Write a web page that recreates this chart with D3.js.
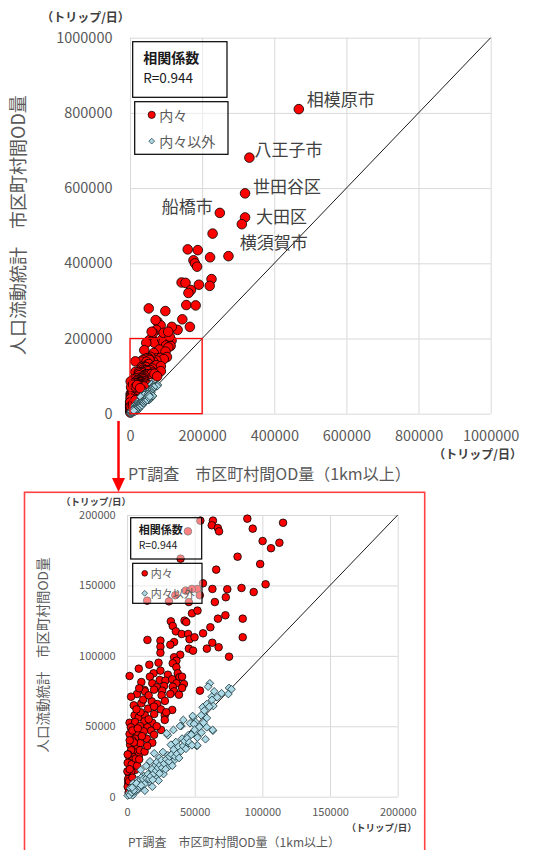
<!DOCTYPE html>
<html>
<head>
<meta charset="utf-8">
<script src="https://cdn.jsdelivr.net/npm/d3@7"></script>
<style>
  body { margin: 0; background: #fff; }
  svg { display: block; }
  text { font-family: 'Noto Sans CJK JP', 'Noto Sans', sans-serif; }
</style>
</head>
<body>
<div id="chart"></div>
<script>
// ---- data (PT調査 OD量, 人口流動統計 OD量) ----
const naiNai = [
  [54200,196000],[63500,196000],[62600,192700],[67100,190800],[68000,188400],[88900,197400],
  [92900,190300],[115300,194500],[100200,181500],[112600,180300],[106400,176400],[81700,170400],
  [98400,165200],[65900,161200],[102400,150800],[63100,147500],[74100,147300],[84600,148200],
  [93600,145300],[73000,141600],[64900,138200],[56100,151500],[45000,188400],[39600,169000],
  [51900,147500],[48000,147500],[43400,146300],[53800,143000],[35700,143000],[31000,138700],
  [14900,139200],[45700,138200],
  [48000,130200],[52100,132100],[67200,126400],[72700,128800],[85500,126400],[32400,124500],
  [42500,125000],[43800,124000],[33800,121200],[61600,120300],[36100,117400],[40400,115500],
  [45200,115500],[56200,116000],[46200,111800],[49900,113200],[85500,113200],[15100,111300],
  [24700,110800],[34800,109800],[32000,107900],[63000,109300],[24700,106500],[45700,105100],
  [48800,103700],[59000,105100],[67700,106100],[24700,102200],[39300,100800],[75400,99400],
  [34800,99000],[36500,96600],[23300,95100],[33800,94700],[16500,93700],[8700,90900],
  [36500,91900],[24700,89500],[19600,87600],[30200,86600],[37500,87600],[1900,85700],
  [16900,85200],[38800,84800],[40700,85200],[24200,82900],[28400,82400],[33400,83400],
  [10600,81400],[18700,80500],[36500,80500],[42000,80000],[27400,78600],[22000,77700],
  [33800,78100],[40700,77200],[12900,75800],[26000,75300],[34800,74800],[53900,75300],
  [7400,72900],[25600,72000],[32000,72900],[38400,72400],
  [13200,74800],[5000,64900],[10600,66300],[18300,67700],[22400,65800],[15600,62500],
  [33400,61600],[5600,57800],[8700,56400],[13200,57800],[20100,58700],[27900,57800],
  [27900,54500],[1900,52500],[6000,53000],[12900,53500],[18700,52500],[2800,49300],
  [9600,50200],[15100,49300],[1900,44500],[7800,45000],[12400,46400],[17900,46900],
  [25200,47400],[6000,41200],[14600,41200],[18700,38300],[2300,36900],[7800,35500],
  [5000,31700],[8700,29400],[1900,27500],[4600,25100],[2300,21300],[6000,19000],
  [1400,16100],[2800,13300],[900,9900],[1900,5700],[500,7100],[1200,3000],[3500,8500],
  [800,12500],[3200,18000],[4000,28500],[3000,33000],[10000,38000],[4000,40000],
  [500,24000],[3500,23000],[1000,30000],[6500,27000],[9500,33000],[5000,38500],
  [11000,43000],[4000,47000],[8000,48500],[20000,44000],[22000,50000],[16000,55000],
  [10000,60000],[7000,62000],[25000,62000],[29000,60000],[20000,64000],[12000,69000],
  [3000,71000],[9000,77000],[16000,72000],[20000,76000],[28000,68000],[2000,40000],
  [500,30000],[300,18000],[1500,11000],[4000,13500],[2000,19500],[7500,22000],
  [9000,26500],[13000,32000],[15000,36000],
  // above 200000 (top panel only)
  [229000,479000],[160000,437000],[188000,435000],[222000,416000],[273000,419000],[176000,408000],
  [180000,400000],[186000,391000],[143000,349000],[154000,348000],[191000,343000],[226000,358000],
  [221000,340000],[169000,329000],[162000,321000],[156000,289000],[182000,288000],[52000,280000],
  [98000,273000],[145000,251000],[166000,231000],[132000,223000],[116000,231000],[76000,245000],
  [85000,235000],[73000,223000],[64000,215000],[93000,215000],[110000,205000],[60000,218000],
  [106000,218000],[71000,249000]
];

const naiNaiIgai = [
  [61200,80500],[59900,78100],[64400,74800],[69900,73400],[75400,77200],[77200,76300],
  [74900,72900],[62600,71000],[55900,63500],[56900,58000],[49000,56400],[41600,54500],
  [62800,68700],[63800,64400],[66600,70600],[59000,65800],[60800,63900],[57100,61100],
  [48500,57300],[54800,57800],[59000,55900],[50700,53000],[56600,52500],[46600,52100],
  [40200,50200],[63500,46900],[49900,45000],[45200,43600],[34300,47400],[30200,43600],
  [58000,40800],[40700,41200],[36100,38800],[44800,37900],[32400,36900],[51600,36000],
  [39800,34100],[26500,31700],[36100,31700],[20100,30800],[30200,29400],[23800,27500],
  [35200,26100],[17000,25100],[27900,24100],[21000,22300],[14200,21800],[30700,21300],
  [25200,19000],[10100,19000],[17900,17500],[27000,16100],[21000,13800],[12400,14700],
  [7800,11900],[16000,10400],[23300,11400],[11000,8100],[18700,7100],[5000,7100],
  [7400,4300],[13200,4300],[2800,2400],[4200,1000],[500,800],
  [39200,50200],[49500,51600],[58900,49300],[63300,47400],[51900,36500],[29300,45000],
  [1500,2500],[3000,4800],[6000,5500],[8500,9000],[10500,13500],[13500,11000],[4500,9500],[2200,6000],
  [2000,1200],[3500,3000],[5500,3800],[6500,7500],[8000,5500],[9500,7000],[9000,11000],
  [11500,10000],[12000,12500],[13000,9000],[14500,13000],[15500,16000],[16500,12500],
  [17500,14500],[18500,19500],[19000,12000],[20000,16500],[21500,18500],[22000,24500],
  [23000,20500],[24000,16500],[24500,22500],[25500,26000],[26000,20500],[27500,23500],
  [28500,19500],[29000,26500],[31000,25000],[31500,28500],[33000,30000],[33500,22000],
  [34500,33500],[35500,28500],[37000,30500],[38000,35500],[38500,27500],[40000,32500],
  [41500,36000],[42500,39500],[43500,34000],[44500,41500],[46000,38500],[47500,44000],
  [48000,36500],[50000,47500],[52000,42000],[53500,49500],[55000,45500],[5000,4500],
  [3800,6500],[7000,9500],[10500,8000]
];

const cityNames  = ["相模原市", "八王子市", "世田谷区", "船橋市", "大田区", "横須賀市"];
const cityPT     = [468000, 331000, 319000, 249000, 319000, 310000];
const cityMobile = [810000, 681000, 586000, 534000, 522000, 504000];

const topTicks  = [0, 200000, 400000, 600000, 800000, 1000000];
const zoomTicks = [0, 50000, 100000, 150000, 200000];

const unitLabel   = "（トリップ/日）";
const xTitle      = "PT調査　市区町村間OD量（1km以上）";
const yTitle      = "人口流動統計　市区町村間OD量";
const corrTitle   = "相関係数";
const corrValue   = "R=0.944";
const seriesNames = ["内々", "内々以外"];

// label placement next to the city points (dx, dy, anchor)
const cityLabelPos = [[8,-11,"start"],[5,-9,"start"],[8,-8,"start"],[-7,-7,"end"],[11,-2,"start"],[-2,17.5,"start"]];

const allNaiNai = naiNai.concat(cityPT.map((v, i) => [v, cityMobile[i]]));

const svg = d3.select("#chart").append("svg")
  .attr("width", 549)
  .attr("height", 850);

function drawPanel(o) {
  const x = d3.scaleLinear().domain([0, o.max]).range([o.left, o.right]);
  const y = d3.scaleLinear().domain([0, o.max]).range([o.bottom, o.top]);
  const g = svg.append("g");

  // gridlines
  g.append("g")
    .attr("transform", `translate(0,${o.bottom})`)
    .call(d3.axisBottom(x).tickValues(o.ticks).tickSize(-(o.bottom - o.top)).tickFormat(""))
    .call(a => a.select(".domain").remove())
    .selectAll("line").attr("stroke", "#d9d9d9");
  g.append("g")
    .attr("transform", `translate(${o.left},0)`)
    .call(d3.axisLeft(y).tickValues(o.ticks).tickSize(-(o.right - o.left)).tickFormat(""))
    .call(a => a.select(".domain").remove())
    .selectAll("line").attr("stroke", "#d9d9d9");

  // tick labels
  const xa = g.append("g")
    .attr("transform", `translate(0,${o.bottom})`)
    .call(d3.axisBottom(x).tickValues(o.ticks).tickSize(0).tickPadding(o.xPad).tickFormat(d3.format("d")));
  xa.select(".domain").remove();
  xa.selectAll("text").attr("fill", "#595959").style("font-size", o.tickFont + "px");

  const ya = g.append("g")
    .attr("transform", `translate(${o.left},0)`)
    .call(d3.axisLeft(y).tickValues(o.ticks).tickSize(0).tickPadding(o.yPad).tickFormat(d3.format("d")));
  ya.select(".domain").remove();
  ya.selectAll("text").attr("fill", "#595959").style("font-size", o.tickFont + "px");

  // y = x line
  g.append("line")
    .attr("x1", x(0)).attr("y1", y(0))
    .attr("x2", x(o.max)).attr("y2", y(o.max))
    .attr("stroke", "#000").attr("stroke-width", 0.9);

  const inside = d => d[0] <= o.max && d[1] <= o.max;

  // 内々
  g.selectAll("circle.nn")
    .data(allNaiNai.filter(inside))
    .join("circle")
    .attr("class", "nn")
    .attr("cx", d => x(d[0]))
    .attr("cy", d => y(d[1]))
    .attr("r", o.r)
    .attr("fill", "#ff0000")
    .attr("stroke", "#000")
    .attr("stroke-width", 0.8);

  // 内々以外
  g.selectAll("path.ng")
    .data(naiNaiIgai.filter(inside))
    .join("path")
    .attr("class", "ng")
    .attr("d", d3.symbol(d3.symbolSquare, o.dia))
    .attr("transform", d => `translate(${x(d[0])},${y(d[1])}) rotate(45)`)
    .attr("fill", "#add8e6")
    .attr("stroke", "#1e3a3e")
    .attr("stroke-width", 0.8);

  // units and titles
  g.append("text").attr("x", o.unitTop[0]).attr("y", o.unitTop[1])
    .attr("text-anchor", "middle").attr("dominant-baseline", "central")
    .style("font-size", o.unitFont + "px").style("font-weight", "bold").attr("fill", "#404040")
    .text(unitLabel);
  g.append("text").attr("x", o.unitRight[0]).attr("y", o.unitRight[1])
    .attr("text-anchor", "end").attr("dominant-baseline", "central")
    .style("font-size", o.unitFont + "px").style("font-weight", "bold").attr("fill", "#404040")
    .text(unitLabel);
  g.append("text").attr("x", o.xTitle[0]).attr("y", o.xTitle[1])
    .attr("dominant-baseline", "central")
    .style("font-size", o.titleFont + "px").attr("fill", "#595959")
    .text(xTitle);
  g.append("text")
    .attr("transform", `translate(${o.yTitle[0]},${o.yTitle[1]}) rotate(-90)`)
    .attr("text-anchor", "middle").attr("dominant-baseline", "central")
    .style("font-size", o.yTitleFont + "px").attr("fill", "#595959")
    .text(yTitle);

  // correlation box
  const b1 = o.box1;
  g.append("rect").attr("x", b1[0]).attr("y", b1[1]).attr("width", b1[2]).attr("height", b1[3])
    .attr("fill", "#fff").attr("fill-opacity", 0.5).attr("stroke", "#000").attr("stroke-width", 1.2);
  g.append("text").attr("x", b1[0] + o.boxPad).attr("y", b1[1] + b1[3] * 0.28)
    .attr("dominant-baseline", "central").style("font-size", o.boxFont + "px")
    .style("font-weight", "bold").attr("fill", "#1a1a1a").text(corrTitle);
  g.append("text").attr("x", b1[0] + o.boxPad).attr("y", b1[1] + b1[3] * 0.64)
    .attr("dominant-baseline", "central").style("font-size", (o.boxFont - 0.5) + "px")
    .attr("fill", "#1a1a1a").text(corrValue);

  // legend box
  const b2 = o.box2;
  g.append("rect").attr("x", b2[0]).attr("y", b2[1]).attr("width", b2[2]).attr("height", b2[3])
    .attr("fill", "#fff").attr("fill-opacity", 0.5).attr("stroke", "#000").attr("stroke-width", 1.2);
  const ly = [b2[1] + b2[3] * 0.25, b2[1] + b2[3] * 0.75];
  g.append("circle").attr("cx", b2[0] + o.markX).attr("cy", ly[0]).attr("r", o.r * 0.75)
    .attr("fill", "#ff0000").attr("stroke", "#000").attr("stroke-width", 0.7);
  g.append("path").attr("d", d3.symbol(d3.symbolSquare, o.dia * 0.55))
    .attr("transform", `translate(${b2[0] + o.markX},${ly[1]}) rotate(45)`)
    .attr("fill", "#add8e6").attr("stroke", "#1e3a3e").attr("stroke-width", 0.7);
  g.selectAll("text.leg").data(seriesNames).join("text").attr("class", "leg")
    .attr("x", b2[0] + o.markX + o.textGap).attr("y", (d, i) => ly[i])
    .attr("dominant-baseline", "central").style("font-size", o.boxFont + "px")
    .attr("fill", "#595959").text(d => d);

  return { x, y, g };
}

// ---- top panel: full range ----
const topPanel = drawPanel({
  max: 1000000, ticks: topTicks,
  left: 130, right: 490.7, top: 37.7, bottom: 413.7,
  tickFont: 14.5, xPad: 17.5, yPad: 17.5,
  r: 4.8, dia: 30,
  unitFont: 12, unitTop: [85.5, 16], unitRight: [522, 453],
  titleFont: 16, xTitle: [128, 473],
  yTitleFont: 18, yTitle: [17, 225],
  box1: [132.7, 41.7, 94.3, 55.6], box2: [134.7, 101.7, 93.3, 52.6],
  boxPad: 10.6, boxFont: 14, markX: 17, textGap: 7.6
});

// city labels
topPanel.g.selectAll("text.city").data(cityNames).join("text").attr("class", "city")
  .attr("x", (d, i) => topPanel.x(cityPT[i]) + cityLabelPos[i][0])
  .attr("y", (d, i) => topPanel.y(cityMobile[i]) + cityLabelPos[i][1])
  .attr("text-anchor", (d, i) => cityLabelPos[i][2])
  .attr("dominant-baseline", "central")
  .style("font-size", "17px").attr("fill", "#404040")
  .text(d => d);

// red box showing the zoomed range
topPanel.g.append("rect")
  .attr("x", topPanel.x(0)).attr("y", topPanel.y(200000))
  .attr("width", topPanel.x(200000) - topPanel.x(0)).attr("height", topPanel.y(0) - topPanel.y(200000))
  .attr("fill", "none").attr("stroke", "#ff0000").attr("stroke-width", 1.3);

// arrow down to the zoomed panel
svg.append("line").attr("x1", 118.5).attr("y1", 421).attr("x2", 118.5).attr("y2", 480)
  .attr("stroke", "#ff0000").attr("stroke-width", 2.5);
svg.append("path").attr("d", "M112,478 L125,478 L118.5,492 Z").attr("fill", "#ff0000");

// frame round the zoomed panel
svg.append("rect").attr("x", 24.5).attr("y", 492.3).attr("width", 400.2).attr("height", 380)
  .attr("fill", "none").attr("stroke", "#ff4040").attr("stroke-width", 1.6);

// ---- bottom panel: 0-200000 ----
drawPanel({
  max: 200000, ticks: zoomTicks,
  left: 127, right: 397.7, top: 515, bottom: 796.7,
  tickFont: 11, xPad: 12, yPad: 11.3,
  r: 3.8, dia: 30,
  unitFont: 9.5, unitTop: [96, 500.5], unitRight: [416.7, 827],
  titleFont: 12, xTitle: [128, 841.7],
  yTitleFont: 13.5, yTitle: [41.7, 655],
  box1: [130.7, 517.7, 71, 41.3], box2: [132.7, 563.3, 69.3, 40],
  boxPad: 8, boxFont: 11, markX: 12, textGap: 6
});
</script>
</body>
</html>
